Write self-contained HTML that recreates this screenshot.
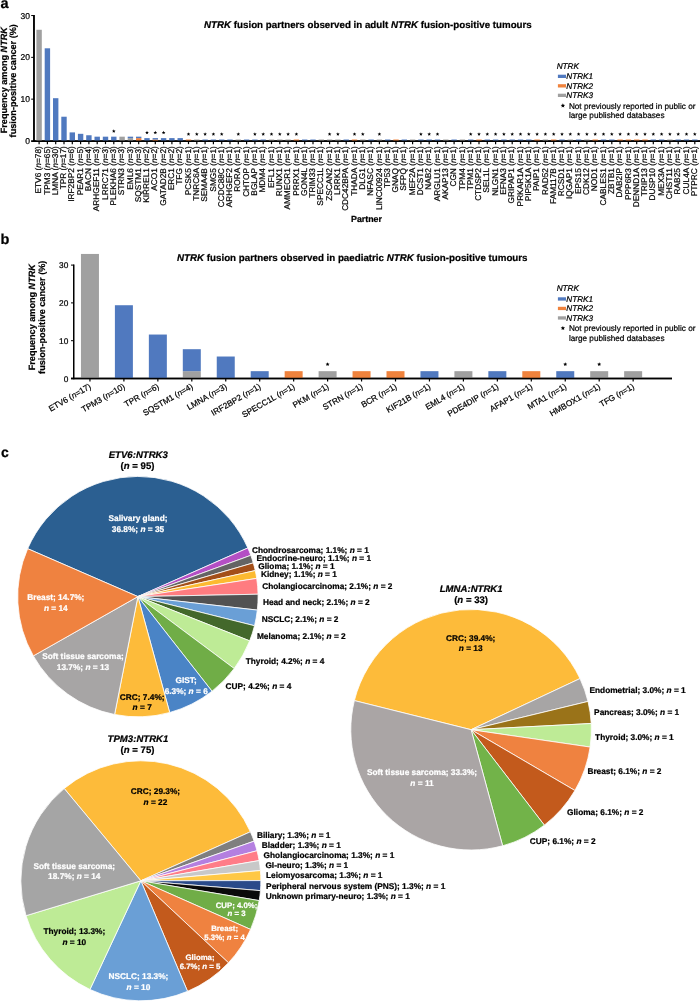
<!DOCTYPE html>
<html><head><meta charset="utf-8"><title>NTRK fusion partners</title>
<style>html,body{margin:0;padding:0;background:#fff;}svg{display:block;}text{font-family:"Liberation Sans",sans-serif;stroke:#000;stroke-width:0.22px;}text.w{stroke:#fff;}</style>
</head><body>
<svg style="will-change:transform;filter:blur(0.35px)" text-rendering="geometricPrecision" width="700" height="1002" viewBox="0 0 700 1002" font-family="Liberation Sans, sans-serif">
<rect width="700" height="1002" fill="#fff"/>
<text x="0.5" y="7.7" font-size="14.5" font-weight="bold">a</text>
<text transform="translate(6.6,80.2) rotate(-90)" text-anchor="middle" font-size="9.1" font-weight="bold">Frequency among <tspan font-style="italic">NTRK</tspan></text>
<text transform="translate(15.9,80.8) rotate(-90)" text-anchor="middle" font-size="9.1" font-weight="bold">fusion-positive cancer (%)</text>
<line x1="33.95" y1="15.0" x2="33.95" y2="141.7" stroke="#000" stroke-width="1.5"/>
<line x1="33.2" y1="140.95" x2="700" y2="140.95" stroke="#000" stroke-width="1.5"/>
<line x1="31.2" y1="140.95" x2="33.9" y2="140.95" stroke="#000" stroke-width="1"/>
<text x="29.9" y="144.05" text-anchor="end" font-size="8.5">0</text>
<line x1="31.2" y1="99.15" x2="33.9" y2="99.15" stroke="#000" stroke-width="1"/>
<text x="29.9" y="102.25" text-anchor="end" font-size="8.5">10</text>
<line x1="31.2" y1="57.35" x2="33.9" y2="57.35" stroke="#000" stroke-width="1"/>
<text x="29.9" y="60.45" text-anchor="end" font-size="8.5">20</text>
<line x1="31.2" y1="15.55" x2="33.9" y2="15.55" stroke="#000" stroke-width="1"/>
<text x="29.9" y="18.65" text-anchor="end" font-size="8.5">30</text>
<rect x="36.40" y="29.77" width="5.4" height="111.18" fill="#A0A0A0"/>
<line x1="39.10" y1="140.95" x2="39.10" y2="144.14999999999998" stroke="#000" stroke-width="1.2"/>
<text transform="translate(41.20,146.2) rotate(-90)" text-anchor="end" font-size="8.3">ETV6 (<tspan font-style="italic">n</tspan>=78)</text>
<rect x="44.70" y="48.30" width="5.4" height="92.65" fill="#5079BF"/>
<line x1="47.40" y1="140.95" x2="47.40" y2="144.14999999999998" stroke="#000" stroke-width="1.2"/>
<text transform="translate(49.50,146.2) rotate(-90)" text-anchor="end" font-size="8.3">TPM3 (<tspan font-style="italic">n</tspan>=65)</text>
<rect x="53.00" y="98.19" width="5.4" height="42.76" fill="#5079BF"/>
<line x1="55.70" y1="140.95" x2="55.70" y2="144.14999999999998" stroke="#000" stroke-width="1.2"/>
<text transform="translate(57.80,146.2) rotate(-90)" text-anchor="end" font-size="8.3">LMNA (<tspan font-style="italic">n</tspan>=30)</text>
<rect x="61.30" y="116.72" width="5.4" height="24.23" fill="#5079BF"/>
<line x1="64.00" y1="140.95" x2="64.00" y2="144.14999999999998" stroke="#000" stroke-width="1.2"/>
<text transform="translate(66.10,146.2) rotate(-90)" text-anchor="end" font-size="8.3">TPR (<tspan font-style="italic">n</tspan>=17)</text>
<rect x="69.60" y="132.40" width="5.4" height="8.55" fill="#5079BF"/>
<line x1="72.30" y1="140.95" x2="72.30" y2="144.14999999999998" stroke="#000" stroke-width="1.2"/>
<text transform="translate(74.40,146.2) rotate(-90)" text-anchor="end" font-size="8.3">IRF2BP2 (<tspan font-style="italic">n</tspan>=6)</text>
<rect x="77.90" y="133.82" width="5.4" height="7.13" fill="#5079BF"/>
<line x1="80.60" y1="140.95" x2="80.60" y2="144.14999999999998" stroke="#000" stroke-width="1.2"/>
<text transform="translate(82.70,146.2) rotate(-90)" text-anchor="end" font-size="8.3">PEAR1 (<tspan font-style="italic">n</tspan>=5)</text>
<rect x="86.20" y="135.25" width="5.4" height="5.70" fill="#5079BF"/>
<line x1="88.90" y1="140.95" x2="88.90" y2="144.14999999999998" stroke="#000" stroke-width="1.2"/>
<text transform="translate(91.00,146.2) rotate(-90)" text-anchor="end" font-size="8.3">BACN (<tspan font-style="italic">n</tspan>=4)</text>
<rect x="94.50" y="136.67" width="5.4" height="4.28" fill="#5079BF"/>
<line x1="97.20" y1="140.95" x2="97.20" y2="144.14999999999998" stroke="#000" stroke-width="1.2"/>
<text transform="translate(99.30,146.2) rotate(-90)" text-anchor="end" font-size="8.3">ARHGEF11 (<tspan font-style="italic">n</tspan>=3)</text>
<rect x="102.80" y="136.67" width="5.4" height="4.28" fill="#5079BF"/>
<line x1="105.50" y1="140.95" x2="105.50" y2="144.14999999999998" stroke="#000" stroke-width="1.2"/>
<text transform="translate(107.60,146.2) rotate(-90)" text-anchor="end" font-size="8.3">LRRC71 (<tspan font-style="italic">n</tspan>=3)</text>
<rect x="111.10" y="136.67" width="5.4" height="4.28" fill="#5079BF"/>
<polygon points="113.80,129.37 114.30,130.59 115.61,130.69 114.61,131.54 114.92,132.81 113.80,132.12 112.68,132.81 112.99,131.54 111.99,130.69 113.30,130.59" fill="#000"/>
<line x1="113.80" y1="140.95" x2="113.80" y2="144.14999999999998" stroke="#000" stroke-width="1.2"/>
<text transform="translate(115.90,146.2) rotate(-90)" text-anchor="end" font-size="8.3">PLEKHA6 (<tspan font-style="italic">n</tspan>=3)</text>
<rect x="119.40" y="136.67" width="5.4" height="4.28" fill="#A0A0A0"/>
<line x1="122.10" y1="140.95" x2="122.10" y2="144.14999999999998" stroke="#000" stroke-width="1.2"/>
<text transform="translate(124.20,146.2) rotate(-90)" text-anchor="end" font-size="8.3">STRN3 (<tspan font-style="italic">n</tspan>=3)</text>
<rect x="127.70" y="138.10" width="5.4" height="2.85" fill="#A0A0A0"/>
<rect x="127.70" y="136.67" width="5.4" height="1.43" fill="#5079BF"/>
<line x1="130.40" y1="140.95" x2="130.40" y2="144.14999999999998" stroke="#000" stroke-width="1.2"/>
<text transform="translate(132.50,146.2) rotate(-90)" text-anchor="end" font-size="8.3">EML6 (<tspan font-style="italic">n</tspan>=3)</text>
<rect x="136.00" y="138.10" width="5.4" height="2.85" fill="#F0833D"/>
<rect x="136.00" y="136.67" width="5.4" height="1.43" fill="#5079BF"/>
<line x1="138.70" y1="140.95" x2="138.70" y2="144.14999999999998" stroke="#000" stroke-width="1.2"/>
<text transform="translate(140.80,146.2) rotate(-90)" text-anchor="end" font-size="8.3">SQSTM1 (<tspan font-style="italic">n</tspan>=3)</text>
<rect x="144.30" y="138.10" width="5.4" height="2.85" fill="#5079BF"/>
<polygon points="147.00,130.80 147.50,132.01 148.81,132.11 147.81,132.96 148.12,134.24 147.00,133.55 145.88,134.24 146.19,132.96 145.19,132.11 146.50,132.01" fill="#000"/>
<line x1="147.00" y1="140.95" x2="147.00" y2="144.14999999999998" stroke="#000" stroke-width="1.2"/>
<text transform="translate(149.10,146.2) rotate(-90)" text-anchor="end" font-size="8.3">KIRREL1 (<tspan font-style="italic">n</tspan>=2)</text>
<rect x="152.60" y="139.52" width="5.4" height="1.43" fill="#F0833D"/>
<rect x="152.60" y="138.10" width="5.4" height="1.43" fill="#5079BF"/>
<polygon points="155.30,130.80 155.80,132.01 157.11,132.11 156.11,132.96 156.42,134.24 155.30,133.55 154.18,134.24 154.49,132.96 153.49,132.11 154.80,132.01" fill="#000"/>
<line x1="155.30" y1="140.95" x2="155.30" y2="144.14999999999998" stroke="#000" stroke-width="1.2"/>
<text transform="translate(157.40,146.2) rotate(-90)" text-anchor="end" font-size="8.3">ACO1 (<tspan font-style="italic">n</tspan>=2)</text>
<rect x="160.90" y="138.10" width="5.4" height="2.85" fill="#5079BF"/>
<polygon points="163.60,130.80 164.10,132.01 165.41,132.11 164.41,132.96 164.72,134.24 163.60,133.55 162.48,134.24 162.79,132.96 161.79,132.11 163.10,132.01" fill="#000"/>
<line x1="163.60" y1="140.95" x2="163.60" y2="144.14999999999998" stroke="#000" stroke-width="1.2"/>
<text transform="translate(165.70,146.2) rotate(-90)" text-anchor="end" font-size="8.3">GATAD2B (<tspan font-style="italic">n</tspan>=2)</text>
<rect x="169.20" y="138.10" width="5.4" height="2.85" fill="#5079BF"/>
<line x1="171.90" y1="140.95" x2="171.90" y2="144.14999999999998" stroke="#000" stroke-width="1.2"/>
<text transform="translate(174.00,146.2) rotate(-90)" text-anchor="end" font-size="8.3">ERC1 (<tspan font-style="italic">n</tspan>=2)</text>
<rect x="177.50" y="138.10" width="5.4" height="2.85" fill="#5079BF"/>
<line x1="180.20" y1="140.95" x2="180.20" y2="144.14999999999998" stroke="#000" stroke-width="1.2"/>
<text transform="translate(182.30,146.2) rotate(-90)" text-anchor="end" font-size="8.3">TFG (<tspan font-style="italic">n</tspan>=2)</text>
<rect x="185.80" y="139.52" width="5.4" height="1.43" fill="#F0833D"/>
<polygon points="188.50,132.22 189.00,133.44 190.31,133.54 189.31,134.39 189.62,135.66 188.50,134.97 187.38,135.66 187.69,134.39 186.69,133.54 188.00,133.44" fill="#000"/>
<line x1="188.50" y1="140.95" x2="188.50" y2="144.14999999999998" stroke="#000" stroke-width="1.2"/>
<text transform="translate(190.60,146.2) rotate(-90)" text-anchor="end" font-size="8.3">PCSK5 (<tspan font-style="italic">n</tspan>=1)</text>
<rect x="194.10" y="139.52" width="5.4" height="1.43" fill="#A0A0A0"/>
<polygon points="196.80,132.22 197.30,133.44 198.61,133.54 197.61,134.39 197.92,135.66 196.80,134.97 195.68,135.66 195.99,134.39 194.99,133.54 196.30,133.44" fill="#000"/>
<line x1="196.80" y1="140.95" x2="196.80" y2="144.14999999999998" stroke="#000" stroke-width="1.2"/>
<text transform="translate(198.90,146.2) rotate(-90)" text-anchor="end" font-size="8.3">TNRC6A (<tspan font-style="italic">n</tspan>=1)</text>
<rect x="202.40" y="139.52" width="5.4" height="1.43" fill="#5079BF"/>
<polygon points="205.10,132.22 205.60,133.44 206.91,133.54 205.91,134.39 206.22,135.66 205.10,134.97 203.98,135.66 204.29,134.39 203.29,133.54 204.60,133.44" fill="#000"/>
<line x1="205.10" y1="140.95" x2="205.10" y2="144.14999999999998" stroke="#000" stroke-width="1.2"/>
<text transform="translate(207.20,146.2) rotate(-90)" text-anchor="end" font-size="8.3">SEMA4B (<tspan font-style="italic">n</tspan>=1)</text>
<rect x="210.70" y="139.52" width="5.4" height="1.43" fill="#5079BF"/>
<polygon points="213.40,132.22 213.90,133.44 215.21,133.54 214.21,134.39 214.52,135.66 213.40,134.97 212.28,135.66 212.59,134.39 211.59,133.54 212.90,133.44" fill="#000"/>
<line x1="213.40" y1="140.95" x2="213.40" y2="144.14999999999998" stroke="#000" stroke-width="1.2"/>
<text transform="translate(215.50,146.2) rotate(-90)" text-anchor="end" font-size="8.3">SMG5 (<tspan font-style="italic">n</tspan>=1)</text>
<rect x="219.00" y="139.52" width="5.4" height="1.43" fill="#5079BF"/>
<polygon points="221.70,132.22 222.20,133.44 223.51,133.54 222.51,134.39 222.82,135.66 221.70,134.97 220.58,135.66 220.89,134.39 219.89,133.54 221.20,133.44" fill="#000"/>
<line x1="221.70" y1="140.95" x2="221.70" y2="144.14999999999998" stroke="#000" stroke-width="1.2"/>
<text transform="translate(223.80,146.2) rotate(-90)" text-anchor="end" font-size="8.3">CCDC88C (<tspan font-style="italic">n</tspan>=1)</text>
<rect x="227.30" y="139.52" width="5.4" height="1.43" fill="#5079BF"/>
<line x1="230.00" y1="140.95" x2="230.00" y2="144.14999999999998" stroke="#000" stroke-width="1.2"/>
<text transform="translate(232.10,146.2) rotate(-90)" text-anchor="end" font-size="8.3">ARHGEF2 (<tspan font-style="italic">n</tspan>=1)</text>
<rect x="235.60" y="139.52" width="5.4" height="1.43" fill="#A0A0A0"/>
<polygon points="238.30,132.22 238.80,133.44 240.11,133.54 239.11,134.39 239.42,135.66 238.30,134.97 237.18,135.66 237.49,134.39 236.49,133.54 237.80,133.44" fill="#000"/>
<line x1="238.30" y1="140.95" x2="238.30" y2="144.14999999999998" stroke="#000" stroke-width="1.2"/>
<text transform="translate(240.40,146.2) rotate(-90)" text-anchor="end" font-size="8.3">RORA (<tspan font-style="italic">n</tspan>=1)</text>
<rect x="243.90" y="139.52" width="5.4" height="1.43" fill="#5079BF"/>
<line x1="246.60" y1="140.95" x2="246.60" y2="144.14999999999998" stroke="#000" stroke-width="1.2"/>
<text transform="translate(248.70,146.2) rotate(-90)" text-anchor="end" font-size="8.3">CHTOP (<tspan font-style="italic">n</tspan>=1)</text>
<rect x="252.20" y="139.52" width="5.4" height="1.43" fill="#5079BF"/>
<polygon points="254.90,132.22 255.40,133.44 256.71,133.54 255.71,134.39 256.02,135.66 254.90,134.97 253.78,135.66 254.09,134.39 253.09,133.54 254.40,133.44" fill="#000"/>
<line x1="254.90" y1="140.95" x2="254.90" y2="144.14999999999998" stroke="#000" stroke-width="1.2"/>
<text transform="translate(257.00,146.2) rotate(-90)" text-anchor="end" font-size="8.3">BGLAP (<tspan font-style="italic">n</tspan>=1)</text>
<rect x="260.50" y="139.52" width="5.4" height="1.43" fill="#5079BF"/>
<polygon points="263.20,132.22 263.70,133.44 265.01,133.54 264.01,134.39 264.32,135.66 263.20,134.97 262.08,135.66 262.39,134.39 261.39,133.54 262.70,133.44" fill="#000"/>
<line x1="263.20" y1="140.95" x2="263.20" y2="144.14999999999998" stroke="#000" stroke-width="1.2"/>
<text transform="translate(265.30,146.2) rotate(-90)" text-anchor="end" font-size="8.3">MDM4 (<tspan font-style="italic">n</tspan>=1)</text>
<rect x="268.80" y="139.52" width="5.4" height="1.43" fill="#A0A0A0"/>
<polygon points="271.50,132.22 272.00,133.44 273.31,133.54 272.31,134.39 272.62,135.66 271.50,134.97 270.38,135.66 270.69,134.39 269.69,133.54 271.00,133.44" fill="#000"/>
<line x1="271.50" y1="140.95" x2="271.50" y2="144.14999999999998" stroke="#000" stroke-width="1.2"/>
<text transform="translate(273.60,146.2) rotate(-90)" text-anchor="end" font-size="8.3">EFL1 (<tspan font-style="italic">n</tspan>=1)</text>
<rect x="277.10" y="139.52" width="5.4" height="1.43" fill="#A0A0A0"/>
<polygon points="279.80,132.22 280.30,133.44 281.61,133.54 280.61,134.39 280.92,135.66 279.80,134.97 278.68,135.66 278.99,134.39 277.99,133.54 279.30,133.44" fill="#000"/>
<line x1="279.80" y1="140.95" x2="279.80" y2="144.14999999999998" stroke="#000" stroke-width="1.2"/>
<text transform="translate(281.90,146.2) rotate(-90)" text-anchor="end" font-size="8.3">RUNX1 (<tspan font-style="italic">n</tspan>=1)</text>
<rect x="285.40" y="139.52" width="5.4" height="1.43" fill="#A0A0A0"/>
<polygon points="288.10,132.22 288.60,133.44 289.91,133.54 288.91,134.39 289.22,135.66 288.10,134.97 286.98,135.66 287.29,134.39 286.29,133.54 287.60,133.44" fill="#000"/>
<line x1="288.10" y1="140.95" x2="288.10" y2="144.14999999999998" stroke="#000" stroke-width="1.2"/>
<text transform="translate(290.20,146.2) rotate(-90)" text-anchor="end" font-size="8.3">AMMECR1 (<tspan font-style="italic">n</tspan>=1)</text>
<rect x="293.70" y="139.52" width="5.4" height="1.43" fill="#F0833D"/>
<polygon points="296.40,132.22 296.90,133.44 298.21,133.54 297.21,134.39 297.52,135.66 296.40,134.97 295.28,135.66 295.59,134.39 294.59,133.54 295.90,133.44" fill="#000"/>
<line x1="296.40" y1="140.95" x2="296.40" y2="144.14999999999998" stroke="#000" stroke-width="1.2"/>
<text transform="translate(298.50,146.2) rotate(-90)" text-anchor="end" font-size="8.3">PRRX1 (<tspan font-style="italic">n</tspan>=1)</text>
<rect x="302.00" y="139.52" width="5.4" height="1.43" fill="#5079BF"/>
<line x1="304.70" y1="140.95" x2="304.70" y2="144.14999999999998" stroke="#000" stroke-width="1.2"/>
<text transform="translate(306.80,146.2) rotate(-90)" text-anchor="end" font-size="8.3">GON4L (<tspan font-style="italic">n</tspan>=1)</text>
<rect x="310.30" y="139.52" width="5.4" height="1.43" fill="#5079BF"/>
<line x1="313.00" y1="140.95" x2="313.00" y2="144.14999999999998" stroke="#000" stroke-width="1.2"/>
<text transform="translate(315.10,146.2) rotate(-90)" text-anchor="end" font-size="8.3">TRIM33 (<tspan font-style="italic">n</tspan>=1)</text>
<rect x="318.60" y="139.52" width="5.4" height="1.43" fill="#A0A0A0"/>
<line x1="321.30" y1="140.95" x2="321.30" y2="144.14999999999998" stroke="#000" stroke-width="1.2"/>
<text transform="translate(323.40,146.2) rotate(-90)" text-anchor="end" font-size="8.3">SPECC1L (<tspan font-style="italic">n</tspan>=1)</text>
<rect x="326.90" y="139.52" width="5.4" height="1.43" fill="#A0A0A0"/>
<polygon points="329.60,132.22 330.10,133.44 331.41,133.54 330.41,134.39 330.72,135.66 329.60,134.97 328.48,135.66 328.79,134.39 327.79,133.54 329.10,133.44" fill="#000"/>
<line x1="329.60" y1="140.95" x2="329.60" y2="144.14999999999998" stroke="#000" stroke-width="1.2"/>
<text transform="translate(331.70,146.2) rotate(-90)" text-anchor="end" font-size="8.3">ZSCAN2 (<tspan font-style="italic">n</tspan>=1)</text>
<rect x="335.20" y="139.52" width="5.4" height="1.43" fill="#A0A0A0"/>
<polygon points="337.90,132.22 338.40,133.44 339.71,133.54 338.71,134.39 339.02,135.66 337.90,134.97 336.78,135.66 337.09,134.39 336.09,133.54 337.40,133.44" fill="#000"/>
<line x1="337.90" y1="140.95" x2="337.90" y2="144.14999999999998" stroke="#000" stroke-width="1.2"/>
<text transform="translate(340.00,146.2) rotate(-90)" text-anchor="end" font-size="8.3">LRRK1 (<tspan font-style="italic">n</tspan>=1)</text>
<rect x="343.50" y="139.52" width="5.4" height="1.43" fill="#5079BF"/>
<line x1="346.20" y1="140.95" x2="346.20" y2="144.14999999999998" stroke="#000" stroke-width="1.2"/>
<text transform="translate(348.30,146.2) rotate(-90)" text-anchor="end" font-size="8.3">CDC42BPA (<tspan font-style="italic">n</tspan>=1)</text>
<rect x="351.80" y="139.52" width="5.4" height="1.43" fill="#F0833D"/>
<polygon points="354.50,132.22 355.00,133.44 356.31,133.54 355.31,134.39 355.62,135.66 354.50,134.97 353.38,135.66 353.69,134.39 352.69,133.54 354.00,133.44" fill="#000"/>
<line x1="354.50" y1="140.95" x2="354.50" y2="144.14999999999998" stroke="#000" stroke-width="1.2"/>
<text transform="translate(356.60,146.2) rotate(-90)" text-anchor="end" font-size="8.3">THADA (<tspan font-style="italic">n</tspan>=1)</text>
<rect x="360.10" y="139.52" width="5.4" height="1.43" fill="#A0A0A0"/>
<polygon points="362.80,132.22 363.30,133.44 364.61,133.54 363.61,134.39 363.92,135.66 362.80,134.97 361.68,135.66 361.99,134.39 360.99,133.54 362.30,133.44" fill="#000"/>
<line x1="362.80" y1="140.95" x2="362.80" y2="144.14999999999998" stroke="#000" stroke-width="1.2"/>
<text transform="translate(364.90,146.2) rotate(-90)" text-anchor="end" font-size="8.3">DLG1 (<tspan font-style="italic">n</tspan>=1)</text>
<rect x="368.40" y="139.52" width="5.4" height="1.43" fill="#5079BF"/>
<line x1="371.10" y1="140.95" x2="371.10" y2="144.14999999999998" stroke="#000" stroke-width="1.2"/>
<text transform="translate(373.20,146.2) rotate(-90)" text-anchor="end" font-size="8.3">NFASC (<tspan font-style="italic">n</tspan>=1)</text>
<rect x="376.70" y="139.52" width="5.4" height="1.43" fill="#A0A0A0"/>
<polygon points="379.40,132.22 379.90,133.44 381.21,133.54 380.21,134.39 380.52,135.66 379.40,134.97 378.28,135.66 378.59,134.39 377.59,133.54 378.90,133.44" fill="#000"/>
<line x1="379.40" y1="140.95" x2="379.40" y2="144.14999999999998" stroke="#000" stroke-width="1.2"/>
<text transform="translate(381.50,146.2) rotate(-90)" text-anchor="end" font-size="8.3">LINC00924 (<tspan font-style="italic">n</tspan>=1)</text>
<rect x="385.00" y="139.52" width="5.4" height="1.43" fill="#5079BF"/>
<line x1="387.70" y1="140.95" x2="387.70" y2="144.14999999999998" stroke="#000" stroke-width="1.2"/>
<text transform="translate(389.80,146.2) rotate(-90)" text-anchor="end" font-size="8.3">TP53 (<tspan font-style="italic">n</tspan>=1)</text>
<rect x="393.30" y="139.52" width="5.4" height="1.43" fill="#F0833D"/>
<line x1="396.00" y1="140.95" x2="396.00" y2="144.14999999999998" stroke="#000" stroke-width="1.2"/>
<text transform="translate(398.10,146.2) rotate(-90)" text-anchor="end" font-size="8.3">GNAQ (<tspan font-style="italic">n</tspan>=1)</text>
<rect x="401.60" y="139.52" width="5.4" height="1.43" fill="#5079BF"/>
<line x1="404.30" y1="140.95" x2="404.30" y2="144.14999999999998" stroke="#000" stroke-width="1.2"/>
<text transform="translate(406.40,146.2) rotate(-90)" text-anchor="end" font-size="8.3">SFPQ (<tspan font-style="italic">n</tspan>=1)</text>
<rect x="409.90" y="139.52" width="5.4" height="1.43" fill="#A0A0A0"/>
<line x1="412.60" y1="140.95" x2="412.60" y2="144.14999999999998" stroke="#000" stroke-width="1.2"/>
<text transform="translate(414.70,146.2) rotate(-90)" text-anchor="end" font-size="8.3">MEF2A (<tspan font-style="italic">n</tspan>=1)</text>
<rect x="418.20" y="139.52" width="5.4" height="1.43" fill="#5079BF"/>
<polygon points="420.90,132.22 421.40,133.44 422.71,133.54 421.71,134.39 422.02,135.66 420.90,134.97 419.78,135.66 420.09,134.39 419.09,133.54 420.40,133.44" fill="#000"/>
<line x1="420.90" y1="140.95" x2="420.90" y2="144.14999999999998" stroke="#000" stroke-width="1.2"/>
<text transform="translate(423.00,146.2) rotate(-90)" text-anchor="end" font-size="8.3">DCST1 (<tspan font-style="italic">n</tspan>=1)</text>
<rect x="426.50" y="139.52" width="5.4" height="1.43" fill="#5079BF"/>
<polygon points="429.20,132.22 429.70,133.44 431.01,133.54 430.01,134.39 430.32,135.66 429.20,134.97 428.08,135.66 428.39,134.39 427.39,133.54 428.70,133.44" fill="#000"/>
<line x1="429.20" y1="140.95" x2="429.20" y2="144.14999999999998" stroke="#000" stroke-width="1.2"/>
<text transform="translate(431.30,146.2) rotate(-90)" text-anchor="end" font-size="8.3">NAB2 (<tspan font-style="italic">n</tspan>=1)</text>
<rect x="434.80" y="139.52" width="5.4" height="1.43" fill="#5079BF"/>
<polygon points="437.50,132.22 438.00,133.44 439.31,133.54 438.31,134.39 438.62,135.66 437.50,134.97 436.38,135.66 436.69,134.39 435.69,133.54 437.00,133.44" fill="#000"/>
<line x1="437.50" y1="140.95" x2="437.50" y2="144.14999999999998" stroke="#000" stroke-width="1.2"/>
<text transform="translate(439.60,146.2) rotate(-90)" text-anchor="end" font-size="8.3">ARGLU1 (<tspan font-style="italic">n</tspan>=1)</text>
<rect x="443.10" y="139.52" width="5.4" height="1.43" fill="#A0A0A0"/>
<line x1="445.80" y1="140.95" x2="445.80" y2="144.14999999999998" stroke="#000" stroke-width="1.2"/>
<text transform="translate(447.90,146.2) rotate(-90)" text-anchor="end" font-size="8.3">AKAP13 (<tspan font-style="italic">n</tspan>=1)</text>
<rect x="451.40" y="139.52" width="5.4" height="1.43" fill="#5079BF"/>
<line x1="454.10" y1="140.95" x2="454.10" y2="144.14999999999998" stroke="#000" stroke-width="1.2"/>
<text transform="translate(456.20,146.2) rotate(-90)" text-anchor="end" font-size="8.3">CGN (<tspan font-style="italic">n</tspan>=1)</text>
<rect x="459.70" y="139.52" width="5.4" height="1.43" fill="#A0A0A0"/>
<line x1="462.40" y1="140.95" x2="462.40" y2="144.14999999999998" stroke="#000" stroke-width="1.2"/>
<text transform="translate(464.50,146.2) rotate(-90)" text-anchor="end" font-size="8.3">TPM4 (<tspan font-style="italic">n</tspan>=1)</text>
<rect x="468.00" y="139.52" width="5.4" height="1.43" fill="#5079BF"/>
<polygon points="470.70,132.22 471.20,133.44 472.51,133.54 471.51,134.39 471.82,135.66 470.70,134.97 469.58,135.66 469.89,134.39 468.89,133.54 470.20,133.44" fill="#000"/>
<line x1="470.70" y1="140.95" x2="470.70" y2="144.14999999999998" stroke="#000" stroke-width="1.2"/>
<text transform="translate(472.80,146.2) rotate(-90)" text-anchor="end" font-size="8.3">TPM1 (<tspan font-style="italic">n</tspan>=1)</text>
<rect x="476.30" y="139.52" width="5.4" height="1.43" fill="#F0833D"/>
<polygon points="479.00,132.22 479.50,133.44 480.81,133.54 479.81,134.39 480.12,135.66 479.00,134.97 477.88,135.66 478.19,134.39 477.19,133.54 478.50,133.44" fill="#000"/>
<line x1="479.00" y1="140.95" x2="479.00" y2="144.14999999999998" stroke="#000" stroke-width="1.2"/>
<text transform="translate(481.10,146.2) rotate(-90)" text-anchor="end" font-size="8.3">CTDSP2 (<tspan font-style="italic">n</tspan>=1)</text>
<rect x="484.60" y="139.52" width="5.4" height="1.43" fill="#5079BF"/>
<polygon points="487.30,132.22 487.80,133.44 489.11,133.54 488.11,134.39 488.42,135.66 487.30,134.97 486.18,135.66 486.49,134.39 485.49,133.54 486.80,133.44" fill="#000"/>
<line x1="487.30" y1="140.95" x2="487.30" y2="144.14999999999998" stroke="#000" stroke-width="1.2"/>
<text transform="translate(489.40,146.2) rotate(-90)" text-anchor="end" font-size="8.3">SEL1L (<tspan font-style="italic">n</tspan>=1)</text>
<rect x="492.90" y="139.52" width="5.4" height="1.43" fill="#5079BF"/>
<polygon points="495.60,132.22 496.10,133.44 497.41,133.54 496.41,134.39 496.72,135.66 495.60,134.97 494.48,135.66 494.79,134.39 493.79,133.54 495.10,133.44" fill="#000"/>
<line x1="495.60" y1="140.95" x2="495.60" y2="144.14999999999998" stroke="#000" stroke-width="1.2"/>
<text transform="translate(497.70,146.2) rotate(-90)" text-anchor="end" font-size="8.3">NLGN1 (<tspan font-style="italic">n</tspan>=1)</text>
<rect x="501.20" y="139.52" width="5.4" height="1.43" fill="#5079BF"/>
<polygon points="503.90,132.22 504.40,133.44 505.71,133.54 504.71,134.39 505.02,135.66 503.90,134.97 502.78,135.66 503.09,134.39 502.09,133.54 503.40,133.44" fill="#000"/>
<line x1="503.90" y1="140.95" x2="503.90" y2="144.14999999999998" stroke="#000" stroke-width="1.2"/>
<text transform="translate(506.00,146.2) rotate(-90)" text-anchor="end" font-size="8.3">EFNA3 (<tspan font-style="italic">n</tspan>=1)</text>
<rect x="509.50" y="139.52" width="5.4" height="1.43" fill="#5079BF"/>
<polygon points="512.20,132.22 512.70,133.44 514.01,133.54 513.01,134.39 513.32,135.66 512.20,134.97 511.08,135.66 511.39,134.39 510.39,133.54 511.70,133.44" fill="#000"/>
<line x1="512.20" y1="140.95" x2="512.20" y2="144.14999999999998" stroke="#000" stroke-width="1.2"/>
<text transform="translate(514.30,146.2) rotate(-90)" text-anchor="end" font-size="8.3">GRIPAP1 (<tspan font-style="italic">n</tspan>=1)</text>
<rect x="517.80" y="139.52" width="5.4" height="1.43" fill="#5079BF"/>
<polygon points="520.50,132.22 521.00,133.44 522.31,133.54 521.31,134.39 521.62,135.66 520.50,134.97 519.38,135.66 519.69,134.39 518.69,133.54 520.00,133.44" fill="#000"/>
<line x1="520.50" y1="140.95" x2="520.50" y2="144.14999999999998" stroke="#000" stroke-width="1.2"/>
<text transform="translate(522.60,146.2) rotate(-90)" text-anchor="end" font-size="8.3">PRKAR1A (<tspan font-style="italic">n</tspan>=1)</text>
<rect x="526.10" y="139.52" width="5.4" height="1.43" fill="#5079BF"/>
<polygon points="528.80,132.22 529.30,133.44 530.61,133.54 529.61,134.39 529.92,135.66 528.80,134.97 527.68,135.66 527.99,134.39 526.99,133.54 528.30,133.44" fill="#000"/>
<line x1="528.80" y1="140.95" x2="528.80" y2="144.14999999999998" stroke="#000" stroke-width="1.2"/>
<text transform="translate(530.90,146.2) rotate(-90)" text-anchor="end" font-size="8.3">PIP5K1A (<tspan font-style="italic">n</tspan>=1)</text>
<rect x="534.40" y="139.52" width="5.4" height="1.43" fill="#F0833D"/>
<polygon points="537.10,132.22 537.60,133.44 538.91,133.54 537.91,134.39 538.22,135.66 537.10,134.97 535.98,135.66 536.29,134.39 535.29,133.54 536.60,133.44" fill="#000"/>
<line x1="537.10" y1="140.95" x2="537.10" y2="144.14999999999998" stroke="#000" stroke-width="1.2"/>
<text transform="translate(539.20,146.2) rotate(-90)" text-anchor="end" font-size="8.3">PAIP1 (<tspan font-style="italic">n</tspan>=1)</text>
<rect x="542.70" y="139.52" width="5.4" height="1.43" fill="#A0A0A0"/>
<polygon points="545.40,132.22 545.90,133.44 547.21,133.54 546.21,134.39 546.52,135.66 545.40,134.97 544.28,135.66 544.59,134.39 543.59,133.54 544.90,133.44" fill="#000"/>
<line x1="545.40" y1="140.95" x2="545.40" y2="144.14999999999998" stroke="#000" stroke-width="1.2"/>
<text transform="translate(547.50,146.2) rotate(-90)" text-anchor="end" font-size="8.3">RAD52 (<tspan font-style="italic">n</tspan>=1)</text>
<rect x="551.00" y="139.52" width="5.4" height="1.43" fill="#F0833D"/>
<polygon points="553.70,132.22 554.20,133.44 555.51,133.54 554.51,134.39 554.82,135.66 553.70,134.97 552.58,135.66 552.89,134.39 551.89,133.54 553.20,133.44" fill="#000"/>
<line x1="553.70" y1="140.95" x2="553.70" y2="144.14999999999998" stroke="#000" stroke-width="1.2"/>
<text transform="translate(555.80,146.2) rotate(-90)" text-anchor="end" font-size="8.3">FAM117B (<tspan font-style="italic">n</tspan>=1)</text>
<rect x="559.30" y="139.52" width="5.4" height="1.43" fill="#5079BF"/>
<polygon points="562.00,132.22 562.50,133.44 563.81,133.54 562.81,134.39 563.12,135.66 562.00,134.97 560.88,135.66 561.19,134.39 560.19,133.54 561.50,133.44" fill="#000"/>
<line x1="562.00" y1="140.95" x2="562.00" y2="144.14999999999998" stroke="#000" stroke-width="1.2"/>
<text transform="translate(564.10,146.2) rotate(-90)" text-anchor="end" font-size="8.3">RCSD1 (<tspan font-style="italic">n</tspan>=1)</text>
<rect x="567.60" y="139.52" width="5.4" height="1.43" fill="#A0A0A0"/>
<polygon points="570.30,132.22 570.80,133.44 572.11,133.54 571.11,134.39 571.42,135.66 570.30,134.97 569.18,135.66 569.49,134.39 568.49,133.54 569.80,133.44" fill="#000"/>
<line x1="570.30" y1="140.95" x2="570.30" y2="144.14999999999998" stroke="#000" stroke-width="1.2"/>
<text transform="translate(572.40,146.2) rotate(-90)" text-anchor="end" font-size="8.3">IQGAP1 (<tspan font-style="italic">n</tspan>=1)</text>
<rect x="575.90" y="139.52" width="5.4" height="1.43" fill="#5079BF"/>
<polygon points="578.60,132.22 579.10,133.44 580.41,133.54 579.41,134.39 579.72,135.66 578.60,134.97 577.48,135.66 577.79,134.39 576.79,133.54 578.10,133.44" fill="#000"/>
<line x1="578.60" y1="140.95" x2="578.60" y2="144.14999999999998" stroke="#000" stroke-width="1.2"/>
<text transform="translate(580.70,146.2) rotate(-90)" text-anchor="end" font-size="8.3">EPS15 (<tspan font-style="italic">n</tspan>=1)</text>
<rect x="584.20" y="139.52" width="5.4" height="1.43" fill="#A0A0A0"/>
<polygon points="586.90,132.22 587.40,133.44 588.71,133.54 587.71,134.39 588.02,135.66 586.90,134.97 585.78,135.66 586.09,134.39 585.09,133.54 586.40,133.44" fill="#000"/>
<line x1="586.90" y1="140.95" x2="586.90" y2="144.14999999999998" stroke="#000" stroke-width="1.2"/>
<text transform="translate(589.00,146.2) rotate(-90)" text-anchor="end" font-size="8.3">CDK12 (<tspan font-style="italic">n</tspan>=1)</text>
<rect x="592.50" y="139.52" width="5.4" height="1.43" fill="#F0833D"/>
<polygon points="595.20,132.22 595.70,133.44 597.01,133.54 596.01,134.39 596.32,135.66 595.20,134.97 594.08,135.66 594.39,134.39 593.39,133.54 594.70,133.44" fill="#000"/>
<line x1="595.20" y1="140.95" x2="595.20" y2="144.14999999999998" stroke="#000" stroke-width="1.2"/>
<text transform="translate(597.30,146.2) rotate(-90)" text-anchor="end" font-size="8.3">NOD1 (<tspan font-style="italic">n</tspan>=1)</text>
<rect x="600.80" y="139.52" width="5.4" height="1.43" fill="#5079BF"/>
<polygon points="603.50,132.22 604.00,133.44 605.31,133.54 604.31,134.39 604.62,135.66 603.50,134.97 602.38,135.66 602.69,134.39 601.69,133.54 603.00,133.44" fill="#000"/>
<line x1="603.50" y1="140.95" x2="603.50" y2="144.14999999999998" stroke="#000" stroke-width="1.2"/>
<text transform="translate(605.60,146.2) rotate(-90)" text-anchor="end" font-size="8.3">CABLES1 (<tspan font-style="italic">n</tspan>=1)</text>
<rect x="609.10" y="139.52" width="5.4" height="1.43" fill="#5079BF"/>
<polygon points="611.80,132.22 612.30,133.44 613.61,133.54 612.61,134.39 612.92,135.66 611.80,134.97 610.68,135.66 610.99,134.39 609.99,133.54 611.30,133.44" fill="#000"/>
<line x1="611.80" y1="140.95" x2="611.80" y2="144.14999999999998" stroke="#000" stroke-width="1.2"/>
<text transform="translate(613.90,146.2) rotate(-90)" text-anchor="end" font-size="8.3">ZBTB1 (<tspan font-style="italic">n</tspan>=1)</text>
<rect x="617.40" y="139.52" width="5.4" height="1.43" fill="#F0833D"/>
<polygon points="620.10,132.22 620.60,133.44 621.91,133.54 620.91,134.39 621.22,135.66 620.10,134.97 618.98,135.66 619.29,134.39 618.29,133.54 619.60,133.44" fill="#000"/>
<line x1="620.10" y1="140.95" x2="620.10" y2="144.14999999999998" stroke="#000" stroke-width="1.2"/>
<text transform="translate(622.20,146.2) rotate(-90)" text-anchor="end" font-size="8.3">DAB2IP (<tspan font-style="italic">n</tspan>=1)</text>
<rect x="625.70" y="139.52" width="5.4" height="1.43" fill="#F0833D"/>
<polygon points="628.40,132.22 628.90,133.44 630.21,133.54 629.21,134.39 629.52,135.66 628.40,134.97 627.28,135.66 627.59,134.39 626.59,133.54 627.90,133.44" fill="#000"/>
<line x1="628.40" y1="140.95" x2="628.40" y2="144.14999999999998" stroke="#000" stroke-width="1.2"/>
<text transform="translate(630.50,146.2) rotate(-90)" text-anchor="end" font-size="8.3">PPP6R3 (<tspan font-style="italic">n</tspan>=1)</text>
<rect x="634.00" y="139.52" width="5.4" height="1.43" fill="#F0833D"/>
<polygon points="636.70,132.22 637.20,133.44 638.51,133.54 637.51,134.39 637.82,135.66 636.70,134.97 635.58,135.66 635.89,134.39 634.89,133.54 636.20,133.44" fill="#000"/>
<line x1="636.70" y1="140.95" x2="636.70" y2="144.14999999999998" stroke="#000" stroke-width="1.2"/>
<text transform="translate(638.80,146.2) rotate(-90)" text-anchor="end" font-size="8.3">DENND1A (<tspan font-style="italic">n</tspan>=1)</text>
<rect x="642.30" y="139.52" width="5.4" height="1.43" fill="#F0833D"/>
<polygon points="645.00,132.22 645.50,133.44 646.81,133.54 645.81,134.39 646.12,135.66 645.00,134.97 643.88,135.66 644.19,134.39 643.19,133.54 644.50,133.44" fill="#000"/>
<line x1="645.00" y1="140.95" x2="645.00" y2="144.14999999999998" stroke="#000" stroke-width="1.2"/>
<text transform="translate(647.10,146.2) rotate(-90)" text-anchor="end" font-size="8.3">TRIP13 (<tspan font-style="italic">n</tspan>=1)</text>
<rect x="650.60" y="139.52" width="5.4" height="1.43" fill="#5079BF"/>
<polygon points="653.30,132.22 653.80,133.44 655.11,133.54 654.11,134.39 654.42,135.66 653.30,134.97 652.18,135.66 652.49,134.39 651.49,133.54 652.80,133.44" fill="#000"/>
<line x1="653.30" y1="140.95" x2="653.30" y2="144.14999999999998" stroke="#000" stroke-width="1.2"/>
<text transform="translate(655.40,146.2) rotate(-90)" text-anchor="end" font-size="8.3">DUSP10 (<tspan font-style="italic">n</tspan>=1)</text>
<rect x="658.90" y="139.52" width="5.4" height="1.43" fill="#5079BF"/>
<polygon points="661.60,132.22 662.10,133.44 663.41,133.54 662.41,134.39 662.72,135.66 661.60,134.97 660.48,135.66 660.79,134.39 659.79,133.54 661.10,133.44" fill="#000"/>
<line x1="661.60" y1="140.95" x2="661.60" y2="144.14999999999998" stroke="#000" stroke-width="1.2"/>
<text transform="translate(663.70,146.2) rotate(-90)" text-anchor="end" font-size="8.3">MEX3A (<tspan font-style="italic">n</tspan>=1)</text>
<rect x="667.20" y="139.52" width="5.4" height="1.43" fill="#A0A0A0"/>
<polygon points="669.90,132.22 670.40,133.44 671.71,133.54 670.71,134.39 671.02,135.66 669.90,134.97 668.78,135.66 669.09,134.39 668.09,133.54 669.40,133.44" fill="#000"/>
<line x1="669.90" y1="140.95" x2="669.90" y2="144.14999999999998" stroke="#000" stroke-width="1.2"/>
<text transform="translate(672.00,146.2) rotate(-90)" text-anchor="end" font-size="8.3">CHST11 (<tspan font-style="italic">n</tspan>=1)</text>
<rect x="675.50" y="139.52" width="5.4" height="1.43" fill="#5079BF"/>
<polygon points="678.20,132.22 678.70,133.44 680.01,133.54 679.01,134.39 679.32,135.66 678.20,134.97 677.08,135.66 677.39,134.39 676.39,133.54 677.70,133.44" fill="#000"/>
<line x1="678.20" y1="140.95" x2="678.20" y2="144.14999999999998" stroke="#000" stroke-width="1.2"/>
<text transform="translate(680.30,146.2) rotate(-90)" text-anchor="end" font-size="8.3">RAB25 (<tspan font-style="italic">n</tspan>=1)</text>
<rect x="683.80" y="139.52" width="5.4" height="1.43" fill="#5079BF"/>
<polygon points="686.50,132.22 687.00,133.44 688.31,133.54 687.31,134.39 687.62,135.66 686.50,134.97 685.38,135.66 685.69,134.39 684.69,133.54 686.00,133.44" fill="#000"/>
<line x1="686.50" y1="140.95" x2="686.50" y2="144.14999999999998" stroke="#000" stroke-width="1.2"/>
<text transform="translate(688.60,146.2) rotate(-90)" text-anchor="end" font-size="8.3">CUL4A (<tspan font-style="italic">n</tspan>=1)</text>
<rect x="692.10" y="139.52" width="5.4" height="1.43" fill="#5079BF"/>
<polygon points="694.80,132.22 695.30,133.44 696.61,133.54 695.61,134.39 695.92,135.66 694.80,134.97 693.68,135.66 693.99,134.39 692.99,133.54 694.30,133.44" fill="#000"/>
<line x1="694.80" y1="140.95" x2="694.80" y2="144.14999999999998" stroke="#000" stroke-width="1.2"/>
<text transform="translate(696.90,146.2) rotate(-90)" text-anchor="end" font-size="8.3">PTPRC (<tspan font-style="italic">n</tspan>=1)</text>
<line x1="31.2" y1="141.29999999999998" x2="700" y2="141.29999999999998" stroke="#000" stroke-width="1.5"/>
<line x1="33.95" y1="15.0" x2="33.95" y2="142.04999999999998" stroke="#000" stroke-width="1.5"/>
<text x="366.5" y="221.7" text-anchor="middle" font-size="8.85" font-weight="bold">Partner</text>
<text x="204" y="27.8" font-size="9.75" font-weight="bold"><tspan font-style="italic">NTRK</tspan> fusion partners observed in adult <tspan font-style="italic">NTRK</tspan> fusion-positive tumours</text>
<text x="556.7" y="68.7" font-size="8.2" font-style="italic">NTRK</text>
<rect x="557.9" y="74.7" width="8.1" height="3.3" fill="#5079BF"/>
<text x="566.3" y="79.2" font-size="8.2" font-style="italic">NTRK1</text>
<rect x="557.9" y="84.2" width="8.1" height="3.3" fill="#F0833D"/>
<text x="566.3" y="88.7" font-size="8.2" font-style="italic">NTRK2</text>
<rect x="557.9" y="93.7" width="8.1" height="3.3" fill="#A0A0A0"/>
<text x="566.3" y="98.2" font-size="8.2" font-style="italic">NTRK3</text>
<polygon points="562.90,103.30 563.52,104.75 565.09,104.89 563.90,105.92 564.25,107.46 562.90,106.65 561.55,107.46 561.90,105.92 560.71,104.89 562.28,104.75" fill="#000"/>
<text x="568.9" y="108.6" font-size="8.2">Not previously reported in public or</text>
<text x="568.9" y="117.9" font-size="8.2">large published databases</text>
<text x="0.4" y="243.7" font-size="14.5" font-weight="bold">b</text>
<text transform="translate(34.9,317.2) rotate(-90)" text-anchor="middle" font-size="9.1" font-weight="bold">Frequency among <tspan font-style="italic">NTRK</tspan></text>
<text transform="translate(45.4,317.3) rotate(-90)" text-anchor="middle" font-size="9.1" font-weight="bold">fusion-positive cancer (%)</text>
<line x1="73.75" y1="264.6" x2="73.75" y2="379.25" stroke="#000" stroke-width="1.5"/>
<line x1="71" y1="378.5" x2="672" y2="378.5" stroke="#000" stroke-width="1.5"/>
<text x="68.3" y="381.80" text-anchor="end" font-size="8.3">0</text>
<line x1="71" y1="340.70" x2="73.8" y2="340.70" stroke="#000" stroke-width="1"/>
<text x="68.3" y="344.00" text-anchor="end" font-size="8.3">10</text>
<line x1="71" y1="302.90" x2="73.8" y2="302.90" stroke="#000" stroke-width="1"/>
<text x="68.3" y="306.20" text-anchor="end" font-size="8.3">20</text>
<line x1="71" y1="265.10" x2="73.8" y2="265.10" stroke="#000" stroke-width="1"/>
<text x="68.3" y="268.40" text-anchor="end" font-size="8.3">30</text>
<rect x="80.95" y="253.94" width="18" height="124.56" fill="#A0A0A0"/>
<line x1="89.95" y1="378.5" x2="89.95" y2="381.5" stroke="#000" stroke-width="1.2"/>
<text transform="translate(91.75,388.10) rotate(-30)" text-anchor="end" font-size="8.3">ETV6 (<tspan font-style="italic">n</tspan>=17)</text>
<rect x="114.90" y="305.23" width="18" height="73.27" fill="#5079BF"/>
<line x1="123.90" y1="378.5" x2="123.90" y2="381.5" stroke="#000" stroke-width="1.2"/>
<text transform="translate(125.70,388.10) rotate(-30)" text-anchor="end" font-size="8.3">TPM3 (<tspan font-style="italic">n</tspan>=10)</text>
<rect x="148.85" y="334.54" width="18" height="43.96" fill="#5079BF"/>
<line x1="157.85" y1="378.5" x2="157.85" y2="381.5" stroke="#000" stroke-width="1.2"/>
<text transform="translate(159.65,388.10) rotate(-30)" text-anchor="end" font-size="8.3">TPR (<tspan font-style="italic">n</tspan>=6)</text>
<rect x="182.80" y="371.17" width="18" height="7.33" fill="#A0A0A0"/>
<rect x="182.80" y="349.19" width="18" height="21.98" fill="#5079BF"/>
<line x1="191.80" y1="378.5" x2="191.80" y2="381.5" stroke="#000" stroke-width="1.2"/>
<text transform="translate(193.60,388.10) rotate(-30)" text-anchor="end" font-size="8.3">SQSTM1 (<tspan font-style="italic">n</tspan>=4)</text>
<rect x="216.75" y="356.52" width="18" height="21.98" fill="#5079BF"/>
<line x1="225.75" y1="378.5" x2="225.75" y2="381.5" stroke="#000" stroke-width="1.2"/>
<text transform="translate(227.55,388.10) rotate(-30)" text-anchor="end" font-size="8.3">LMNA (<tspan font-style="italic">n</tspan>=3)</text>
<rect x="250.70" y="371.17" width="18" height="7.33" fill="#5079BF"/>
<line x1="259.70" y1="378.5" x2="259.70" y2="381.5" stroke="#000" stroke-width="1.2"/>
<text transform="translate(261.50,388.10) rotate(-30)" text-anchor="end" font-size="8.3">IRF2BP2 (<tspan font-style="italic">n</tspan>=1)</text>
<rect x="284.65" y="371.17" width="18" height="7.33" fill="#F0833D"/>
<line x1="293.65" y1="378.5" x2="293.65" y2="381.5" stroke="#000" stroke-width="1.2"/>
<text transform="translate(295.45,388.10) rotate(-30)" text-anchor="end" font-size="8.3">SPECC1L (<tspan font-style="italic">n</tspan>=1)</text>
<rect x="318.60" y="371.17" width="18" height="7.33" fill="#A0A0A0"/>
<polygon points="327.60,362.27 328.16,363.60 329.60,363.72 328.50,364.67 328.83,366.07 327.60,365.32 326.37,366.07 326.70,364.67 325.60,363.72 327.04,363.60" fill="#000"/>
<line x1="327.60" y1="378.5" x2="327.60" y2="381.5" stroke="#000" stroke-width="1.2"/>
<text transform="translate(329.40,388.10) rotate(-30)" text-anchor="end" font-size="8.3">PKM (<tspan font-style="italic">n</tspan>=1)</text>
<rect x="352.55" y="371.17" width="18" height="7.33" fill="#F0833D"/>
<line x1="361.55" y1="378.5" x2="361.55" y2="381.5" stroke="#000" stroke-width="1.2"/>
<text transform="translate(363.35,388.10) rotate(-30)" text-anchor="end" font-size="8.3">STRN (<tspan font-style="italic">n</tspan>=1)</text>
<rect x="386.50" y="371.17" width="18" height="7.33" fill="#F0833D"/>
<line x1="395.50" y1="378.5" x2="395.50" y2="381.5" stroke="#000" stroke-width="1.2"/>
<text transform="translate(397.30,388.10) rotate(-30)" text-anchor="end" font-size="8.3">BCR (<tspan font-style="italic">n</tspan>=1)</text>
<rect x="420.45" y="371.17" width="18" height="7.33" fill="#5079BF"/>
<line x1="429.45" y1="378.5" x2="429.45" y2="381.5" stroke="#000" stroke-width="1.2"/>
<text transform="translate(431.25,388.10) rotate(-30)" text-anchor="end" font-size="8.3">KIF21B (<tspan font-style="italic">n</tspan>=1)</text>
<rect x="454.40" y="371.17" width="18" height="7.33" fill="#A0A0A0"/>
<line x1="463.40" y1="378.5" x2="463.40" y2="381.5" stroke="#000" stroke-width="1.2"/>
<text transform="translate(465.20,388.10) rotate(-30)" text-anchor="end" font-size="8.3">EML4 (<tspan font-style="italic">n</tspan>=1)</text>
<rect x="488.35" y="371.17" width="18" height="7.33" fill="#5079BF"/>
<line x1="497.35" y1="378.5" x2="497.35" y2="381.5" stroke="#000" stroke-width="1.2"/>
<text transform="translate(499.15,388.10) rotate(-30)" text-anchor="end" font-size="8.3">PDE4DIP (<tspan font-style="italic">n</tspan>=1)</text>
<rect x="522.30" y="371.17" width="18" height="7.33" fill="#F0833D"/>
<line x1="531.30" y1="378.5" x2="531.30" y2="381.5" stroke="#000" stroke-width="1.2"/>
<text transform="translate(533.10,388.10) rotate(-30)" text-anchor="end" font-size="8.3">AFAP1 (<tspan font-style="italic">n</tspan>=1)</text>
<rect x="556.25" y="371.17" width="18" height="7.33" fill="#5079BF"/>
<polygon points="565.25,362.27 565.81,363.60 567.25,363.72 566.15,364.67 566.48,366.07 565.25,365.32 564.02,366.07 564.35,364.67 563.25,363.72 564.69,363.60" fill="#000"/>
<line x1="565.25" y1="378.5" x2="565.25" y2="381.5" stroke="#000" stroke-width="1.2"/>
<text transform="translate(567.05,388.10) rotate(-30)" text-anchor="end" font-size="8.3">MTA1 (<tspan font-style="italic">n</tspan>=1)</text>
<rect x="590.20" y="371.17" width="18" height="7.33" fill="#A0A0A0"/>
<polygon points="599.20,362.27 599.76,363.60 601.20,363.72 600.10,364.67 600.43,366.07 599.20,365.32 597.97,366.07 598.30,364.67 597.20,363.72 598.64,363.60" fill="#000"/>
<line x1="599.20" y1="378.5" x2="599.20" y2="381.5" stroke="#000" stroke-width="1.2"/>
<text transform="translate(601.00,388.10) rotate(-30)" text-anchor="end" font-size="8.3">HMBOX1 (<tspan font-style="italic">n</tspan>=1)</text>
<rect x="624.15" y="371.17" width="18" height="7.33" fill="#A0A0A0"/>
<line x1="633.15" y1="378.5" x2="633.15" y2="381.5" stroke="#000" stroke-width="1.2"/>
<text transform="translate(634.95,388.10) rotate(-30)" text-anchor="end" font-size="8.3">TFG (<tspan font-style="italic">n</tspan>=1)</text>
<line x1="71" y1="378.5" x2="672" y2="378.5" stroke="#000" stroke-width="1.5"/>
<text x="177" y="261.4" font-size="9.75" font-weight="bold"><tspan font-style="italic">NTRK</tspan> fusion partners observed in paediatric <tspan font-style="italic">NTRK</tspan> fusion-positive tumours</text>
<text x="556.7" y="291.3" font-size="8.2" font-style="italic">NTRK</text>
<rect x="557.9" y="297.3" width="8.1" height="3.3" fill="#5079BF"/>
<text x="566.3" y="301.8" font-size="8.2" font-style="italic">NTRK1</text>
<rect x="557.9" y="306.8" width="8.1" height="3.3" fill="#F0833D"/>
<text x="566.3" y="311.3" font-size="8.2" font-style="italic">NTRK2</text>
<rect x="557.9" y="316.3" width="8.1" height="3.3" fill="#A0A0A0"/>
<text x="566.3" y="320.8" font-size="8.2" font-style="italic">NTRK3</text>
<polygon points="562.90,325.90 563.52,327.35 565.09,327.49 563.90,328.52 564.25,330.06 562.90,329.25 561.55,330.06 561.90,328.52 560.71,327.49 562.28,327.35" fill="#000"/>
<text x="568.9" y="331.2" font-size="8.2">Not previously reported in public or</text>
<text x="568.9" y="340.5" font-size="8.2">large published databases</text>
<text x="0.9" y="456.5" font-size="14" font-weight="bold">c</text>
<path d="M137.90,596.60 L27.67,548.67 A120.2,120.2 0 0 1 247.82,547.96 Z" fill="#2B5F91" stroke="#fff" stroke-width="0.8" stroke-linejoin="round"/>
<path d="M137.90,596.60 L247.82,547.96 A120.2,120.2 0 0 1 250.79,555.33 Z" fill="#B44FC4" stroke="#fff" stroke-width="0.8" stroke-linejoin="round"/>
<path d="M137.90,596.60 L250.79,555.33 A120.2,120.2 0 0 1 253.27,562.89 Z" fill="#646464" stroke="#fff" stroke-width="0.8" stroke-linejoin="round"/>
<path d="M137.90,596.60 L253.27,562.89 A120.2,120.2 0 0 1 255.25,570.58 Z" fill="#A34F19" stroke="#fff" stroke-width="0.8" stroke-linejoin="round"/>
<path d="M137.90,596.60 L255.25,570.58 A120.2,120.2 0 0 1 256.71,578.40 Z" fill="#FCBA30" stroke="#fff" stroke-width="0.8" stroke-linejoin="round"/>
<path d="M137.90,596.60 L256.71,578.40 A120.2,120.2 0 0 1 258.08,594.23 Z" fill="#FF7C80" stroke="#fff" stroke-width="0.8" stroke-linejoin="round"/>
<path d="M137.90,596.60 L258.08,594.23 A120.2,120.2 0 0 1 257.34,610.10 Z" fill="#525252" stroke="#fff" stroke-width="0.8" stroke-linejoin="round"/>
<path d="M137.90,596.60 L257.34,610.10 A120.2,120.2 0 0 1 254.52,625.73 Z" fill="#6A9FD6" stroke="#fff" stroke-width="0.8" stroke-linejoin="round"/>
<path d="M137.90,596.60 L254.52,625.73 A120.2,120.2 0 0 1 249.66,640.86 Z" fill="#43682B" stroke="#fff" stroke-width="0.8" stroke-linejoin="round"/>
<path d="M137.90,596.60 L249.66,640.86 A120.2,120.2 0 0 1 234.19,668.54 Z" fill="#BEEB96" stroke="#fff" stroke-width="0.8" stroke-linejoin="round"/>
<path d="M137.90,596.60 L234.19,668.54 A120.2,120.2 0 0 1 212.03,691.22 Z" fill="#70AD47" stroke="#fff" stroke-width="0.8" stroke-linejoin="round"/>
<path d="M137.90,596.60 L212.03,691.22 A120.2,120.2 0 0 1 169.70,712.52 Z" fill="#4A84C6" stroke="#fff" stroke-width="0.8" stroke-linejoin="round"/>
<path d="M137.90,596.60 L169.70,712.52 A120.2,120.2 0 0 1 114.59,714.52 Z" fill="#FDBB3A" stroke="#fff" stroke-width="0.8" stroke-linejoin="round"/>
<path d="M137.90,596.60 L114.59,714.52 A120.2,120.2 0 0 1 33.34,655.89 Z" fill="#A7A5A5" stroke="#fff" stroke-width="0.8" stroke-linejoin="round"/>
<path d="M137.90,596.60 L33.34,655.89 A120.2,120.2 0 0 1 27.67,548.67 Z" fill="#EF8240" stroke="#fff" stroke-width="0.8" stroke-linejoin="round"/>
<path d="M471.10,729.70 L354.37,700.60 A120.3,120.3 0 0 1 580.00,678.57 Z" fill="#FDBB3A" stroke="#fff" stroke-width="0.8" stroke-linejoin="round"/>
<path d="M471.10,729.70 L580.00,678.57 A120.3,120.3 0 0 1 588.03,701.41 Z" fill="#A7A5A5" stroke="#fff" stroke-width="0.8" stroke-linejoin="round"/>
<path d="M471.10,729.70 L588.03,701.41 A120.3,120.3 0 0 1 591.24,723.51 Z" fill="#9A7319" stroke="#fff" stroke-width="0.8" stroke-linejoin="round"/>
<path d="M471.10,729.70 L591.24,723.51 A120.3,120.3 0 0 1 590.14,747.07 Z" fill="#BEEB96" stroke="#fff" stroke-width="0.8" stroke-linejoin="round"/>
<path d="M471.10,729.70 L590.14,747.07 A120.3,120.3 0 0 1 574.91,790.49 Z" fill="#EF8240" stroke="#fff" stroke-width="0.8" stroke-linejoin="round"/>
<path d="M471.10,729.70 L574.91,790.49 A120.3,120.3 0 0 1 544.33,825.14 Z" fill="#C35A1C" stroke="#fff" stroke-width="0.8" stroke-linejoin="round"/>
<path d="M471.10,729.70 L544.33,825.14 A120.3,120.3 0 0 1 502.64,845.79 Z" fill="#72B349" stroke="#fff" stroke-width="0.8" stroke-linejoin="round"/>
<path d="M471.10,729.70 L502.64,845.79 A120.3,120.3 0 0 1 354.37,700.60 Z" fill="#AAA5A5" stroke="#fff" stroke-width="0.8" stroke-linejoin="round"/>
<path d="M140.85,880.80 L64.20,788.47 A120,120 0 0 1 250.39,831.80 Z" fill="#FDBB3A" stroke="#fff" stroke-width="0.8" stroke-linejoin="round"/>
<path d="M140.85,880.80 L250.39,831.80 A120,120 0 0 1 254.11,841.14 Z" fill="#7F7F7F" stroke="#fff" stroke-width="0.8" stroke-linejoin="round"/>
<path d="M140.85,880.80 L254.11,841.14 A120,120 0 0 1 257.03,850.75 Z" fill="#B47FE0" stroke="#fff" stroke-width="0.8" stroke-linejoin="round"/>
<path d="M140.85,880.80 L257.03,850.75 A120,120 0 0 1 259.13,860.58 Z" fill="#FF7C88" stroke="#fff" stroke-width="0.8" stroke-linejoin="round"/>
<path d="M140.85,880.80 L259.13,860.58 A120,120 0 0 1 260.41,870.55 Z" fill="#C8C8C8" stroke="#fff" stroke-width="0.8" stroke-linejoin="round"/>
<path d="M140.85,880.80 L260.41,870.55 A120,120 0 0 1 260.85,880.59 Z" fill="#FFC845" stroke="#fff" stroke-width="0.8" stroke-linejoin="round"/>
<path d="M140.85,880.80 L260.85,880.59 A120,120 0 0 1 260.45,890.63 Z" fill="#2A4A8A" stroke="#fff" stroke-width="0.8" stroke-linejoin="round"/>
<path d="M140.85,880.80 L260.45,890.63 A120,120 0 0 1 259.20,900.61 Z" fill="#0A0A0A" stroke="#fff" stroke-width="0.8" stroke-linejoin="round"/>
<path d="M140.85,880.80 L259.20,900.61 A120,120 0 0 1 250.56,929.42 Z" fill="#70AD47" stroke="#fff" stroke-width="0.8" stroke-linejoin="round"/>
<path d="M140.85,880.80 L250.56,929.42 A120,120 0 0 1 228.47,962.79 Z" fill="#EF8240" stroke="#fff" stroke-width="0.8" stroke-linejoin="round"/>
<path d="M140.85,880.80 L228.47,962.79 A120,120 0 0 1 187.54,991.34 Z" fill="#C35A1C" stroke="#fff" stroke-width="0.8" stroke-linejoin="round"/>
<path d="M140.85,880.80 L187.54,991.34 A120,120 0 0 1 89.95,989.47 Z" fill="#6A9FD6" stroke="#fff" stroke-width="0.8" stroke-linejoin="round"/>
<path d="M140.85,880.80 L89.95,989.47 A120,120 0 0 1 26.03,915.68 Z" fill="#BEEB96" stroke="#fff" stroke-width="0.8" stroke-linejoin="round"/>
<path d="M140.85,880.80 L26.03,915.68 A120,120 0 0 1 64.20,788.47 Z" fill="#A5A5A5" stroke="#fff" stroke-width="0.8" stroke-linejoin="round"/>
<text x="138.3" y="457.7" text-anchor="middle" font-size="9.6" font-weight="bold" font-style="italic">ETV6:NTRK3</text>
<text x="137.5" y="468.6" text-anchor="middle" font-size="9.6" font-weight="bold">(<tspan font-style="italic">n</tspan> = 95)</text>
<text x="471.2" y="591.6" text-anchor="middle" font-size="9.6" font-weight="bold" font-style="italic">LMNA:NTRK1</text>
<text x="471.1" y="602.6" text-anchor="middle" font-size="9.6" font-weight="bold">(<tspan font-style="italic">n</tspan> = 33)</text>
<text x="138" y="741.8" text-anchor="middle" font-size="9.6" font-weight="bold" font-style="italic">TPM3:NTRK1</text>
<text x="137.5" y="752.8" text-anchor="middle" font-size="9.6" font-weight="bold">(<tspan font-style="italic">n</tspan> = 75)</text>
<text class="w" x="138" y="521.20" text-anchor="middle" font-size="8.3" font-weight="bold" fill="#fff">Salivary gland;</text>
<text class="w" x="138" y="531.60" text-anchor="middle" font-size="8.3" font-weight="bold" fill="#fff">36.8%; <tspan font-style="italic">n</tspan> = 35</text>
<text class="w" x="55.8" y="600.10" text-anchor="middle" font-size="8.3" font-weight="bold" fill="#fff">Breast; 14.7%;</text>
<text class="w" x="55.8" y="610.50" text-anchor="middle" font-size="8.3" font-weight="bold" fill="#fff"><tspan font-style="italic">n</tspan> = 14</text>
<text class="w" x="83" y="659.40" text-anchor="middle" font-size="8.3" font-weight="bold" fill="#fff">Soft tissue sarcoma;</text>
<text class="w" x="83" y="669.80" text-anchor="middle" font-size="8.3" font-weight="bold" fill="#fff">13.7%; <tspan font-style="italic">n</tspan> = 13</text>
<text x="142.2" y="700.00" text-anchor="middle" font-size="8.3" font-weight="bold" fill="#000">CRC; 7.4%;</text>
<text x="142.2" y="710.40" text-anchor="middle" font-size="8.3" font-weight="bold" fill="#000"><tspan font-style="italic">n</tspan> = 7</text>
<text class="w" x="186.2" y="682.80" text-anchor="middle" font-size="8.3" font-weight="bold" fill="#fff">GIST;</text>
<text class="w" x="186.2" y="693.80" text-anchor="middle" font-size="8.3" font-weight="bold" fill="#fff">6.3%; <tspan font-style="italic">n</tspan> = 6</text>
<text x="251.9" y="552.60" text-anchor="start" font-size="8.3" font-weight="bold" fill="#000">Chondrosarcoma; 1.1%; <tspan font-style="italic">n</tspan> = 1</text>
<text x="256.5" y="560.60" text-anchor="start" font-size="8.3" font-weight="bold" fill="#000">Endocrine-neuro; 1.1%; <tspan font-style="italic">n</tspan> = 1</text>
<text x="258.3" y="568.60" text-anchor="start" font-size="8.3" font-weight="bold" fill="#000">Glioma; 1.1%; <tspan font-style="italic">n</tspan> = 1</text>
<text x="261" y="577.00" text-anchor="start" font-size="8.3" font-weight="bold" fill="#000">Kidney; 1.1%; <tspan font-style="italic">n</tspan> = 1</text>
<text x="262.2" y="588.50" text-anchor="start" font-size="8.3" font-weight="bold" fill="#000">Cholangiocarcinoma; 2.1%; <tspan font-style="italic">n</tspan> = 2</text>
<text x="262.9" y="605.10" text-anchor="start" font-size="8.3" font-weight="bold" fill="#000">Head and neck; 2.1%; <tspan font-style="italic">n</tspan> = 2</text>
<text x="261.7" y="622.30" text-anchor="start" font-size="8.3" font-weight="bold" fill="#000">NSCLC; 2.1%; <tspan font-style="italic">n</tspan> = 2</text>
<text x="256.9" y="639.00" text-anchor="start" font-size="8.3" font-weight="bold" fill="#000">Melanoma; 2.1%; <tspan font-style="italic">n</tspan> = 2</text>
<text x="245.7" y="663.90" text-anchor="start" font-size="8.3" font-weight="bold" fill="#000">Thyroid; 4.2%; <tspan font-style="italic">n</tspan> = 4</text>
<text x="225.6" y="688.60" text-anchor="start" font-size="8.3" font-weight="bold" fill="#000">CUP; 4.2%; <tspan font-style="italic">n</tspan> = 4</text>
<text x="470.7" y="640.50" text-anchor="middle" font-size="8.3" font-weight="bold" fill="#000">CRC; 39.4%;</text>
<text x="470.7" y="651.20" text-anchor="middle" font-size="8.3" font-weight="bold" fill="#000"><tspan font-style="italic">n</tspan> = 13</text>
<text class="w" x="422" y="775.00" text-anchor="middle" font-size="8.3" font-weight="bold" fill="#fff">Soft tissue sarcoma; 33.3%;</text>
<text class="w" x="422" y="785.60" text-anchor="middle" font-size="8.3" font-weight="bold" fill="#fff"><tspan font-style="italic">n</tspan> = 11</text>
<text x="589.5" y="692.60" text-anchor="start" font-size="8.3" font-weight="bold" fill="#000">Endometrial; 3.0%; <tspan font-style="italic">n</tspan> = 1</text>
<text x="594.1" y="715.30" text-anchor="start" font-size="8.3" font-weight="bold" fill="#000">Pancreas; 3.0%; <tspan font-style="italic">n</tspan> = 1</text>
<text x="595.1" y="740.40" text-anchor="start" font-size="8.3" font-weight="bold" fill="#000">Thyroid; 3.0%; <tspan font-style="italic">n</tspan> = 1</text>
<text x="587.4" y="774.40" text-anchor="start" font-size="8.3" font-weight="bold" fill="#000">Breast; 6.1%; <tspan font-style="italic">n</tspan> = 2</text>
<text x="567.1" y="814.80" text-anchor="start" font-size="8.3" font-weight="bold" fill="#000">Glioma; 6.1%; <tspan font-style="italic">n</tspan> = 2</text>
<text x="529.8" y="843.90" text-anchor="start" font-size="8.3" font-weight="bold" fill="#000">CUP; 6.1%; <tspan font-style="italic">n</tspan> = 2</text>
<text x="155.4" y="793.70" text-anchor="middle" font-size="8.3" font-weight="bold" fill="#000">CRC; 29.3%;</text>
<text x="155.4" y="804.60" text-anchor="middle" font-size="8.3" font-weight="bold" fill="#000"><tspan font-style="italic">n</tspan> = 22</text>
<text class="w" x="74.3" y="868.60" text-anchor="middle" font-size="8.3" font-weight="bold" fill="#fff">Soft tissue sarcoma;</text>
<text class="w" x="74.3" y="879.20" text-anchor="middle" font-size="8.3" font-weight="bold" fill="#fff">18.7%; <tspan font-style="italic">n</tspan> = 14</text>
<text x="74.3" y="934.30" text-anchor="middle" font-size="8.3" font-weight="bold" fill="#000">Thyroid; 13.3%;</text>
<text x="74.3" y="945.30" text-anchor="middle" font-size="8.3" font-weight="bold" fill="#000"><tspan font-style="italic">n</tspan> = 10</text>
<text class="w" x="138.4" y="978.90" text-anchor="middle" font-size="8.3" font-weight="bold" fill="#fff">NSCLC; 13.3%;</text>
<text class="w" x="138.4" y="989.70" text-anchor="middle" font-size="8.3" font-weight="bold" fill="#fff"><tspan font-style="italic">n</tspan> = 10</text>
<text class="w" x="236.5" y="907.60" text-anchor="middle" font-size="7.8" font-weight="bold" fill="#fff">CUP; 4.0%;</text>
<text class="w" x="236.5" y="915.90" text-anchor="middle" font-size="7.8" font-weight="bold" fill="#fff"><tspan font-style="italic">n</tspan> = 3</text>
<text class="w" x="224.6" y="930.80" text-anchor="middle" font-size="7.8" font-weight="bold" fill="#fff">Breast;</text>
<text class="w" x="224.6" y="939.80" text-anchor="middle" font-size="7.8" font-weight="bold" fill="#fff">5.3%; <tspan font-style="italic">n</tspan> = 4</text>
<text class="w" x="200" y="960.30" text-anchor="middle" font-size="7.8" font-weight="bold" fill="#fff">Glioma;</text>
<text class="w" x="200" y="968.70" text-anchor="middle" font-size="7.8" font-weight="bold" fill="#fff">6.7%; <tspan font-style="italic">n</tspan> = 5</text>
<text x="256.9" y="837.60" text-anchor="start" font-size="8.3" font-weight="bold" fill="#000">Biliary; 1.3%; <tspan font-style="italic">n</tspan> = 1</text>
<text x="261.7" y="847.90" text-anchor="start" font-size="8.3" font-weight="bold" fill="#000">Bladder; 1.3%; <tspan font-style="italic">n</tspan> = 1</text>
<text x="263.6" y="857.60" text-anchor="start" font-size="8.3" font-weight="bold" fill="#000">Gholangiocarcinoma; 1.3%; <tspan font-style="italic">n</tspan> = 1</text>
<text x="265.4" y="867.90" text-anchor="start" font-size="8.3" font-weight="bold" fill="#000">GI-neuro; 1.3%; <tspan font-style="italic">n</tspan> = 1</text>
<text x="266" y="878.10" text-anchor="start" font-size="8.3" font-weight="bold" fill="#000">Leiomyosarcoma; 1.3%; <tspan font-style="italic">n</tspan> = 1</text>
<text x="266.1" y="888.60" text-anchor="start" font-size="8.3" font-weight="bold" fill="#000">Peripheral nervous system (PNS); 1.3%; <tspan font-style="italic">n</tspan> = 1</text>
<text x="265.7" y="898.60" text-anchor="start" font-size="8.3" font-weight="bold" fill="#000">Unknown primary-neuro; 1.3%; <tspan font-style="italic">n</tspan> = 1</text>
</svg>
</body></html>
